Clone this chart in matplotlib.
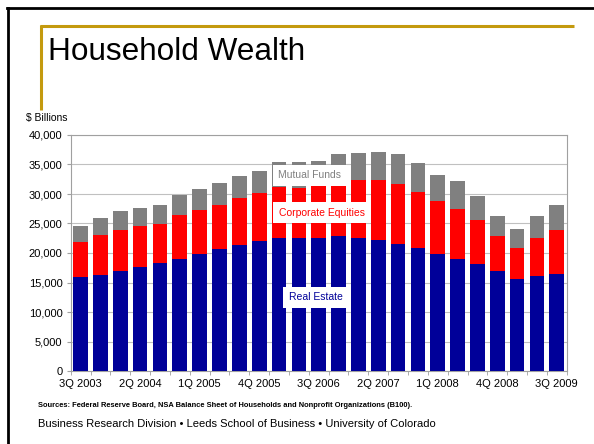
import numpy as np
import matplotlib
matplotlib.use("Agg")
import matplotlib.pyplot as plt
from matplotlib.lines import Line2D

# --- DATA ($ billions) ---
quarters = ['3Q 2003', '4Q 2003', '1Q 2004', '2Q 2004', '3Q 2004', '4Q 2004',
            '1Q 2005', '2Q 2005', '3Q 2005', '4Q 2005', '1Q 2006', '2Q 2006',
            '3Q 2006', '4Q 2006', '1Q 2007', '2Q 2007', '3Q 2007', '4Q 2007',
            '1Q 2008', '2Q 2008', '3Q 2008', '4Q 2008', '1Q 2009', '2Q 2009',
            '3Q 2009']
real_estate = [15900, 16300, 17000, 17700, 18300, 18900, 19900, 20700, 21400, 22100,
               22600, 22600, 22600, 22900, 22500, 22150, 21600, 20900, 19900, 19000,
               18100, 17000, 15650, 16150, 16500]
corp_equities = [6000, 6800, 6950, 6900, 6650, 7500, 7400, 7500, 8000, 8000,
                 8650, 8500, 8800, 8900, 9800, 10150, 10150, 9500, 8850, 8500,
                 7500, 5900, 5150, 6350, 7450]
mutual_funds = [2600, 2900, 3100, 3100, 3250, 3500, 3600, 3600, 3700, 3800,
                4100, 4300, 4200, 5000, 4600, 4900, 4950, 4850, 4550, 4650,
                4100, 3400, 3250, 3700, 4150]
tick_every = 3

BLUE = '#000099'
RED = '#ff0000'
GRAY = '#808080'
GOLD = '#c49a0e'
plt.rcParams['font.family'] = ['Liberation Sans', 'DejaVu Sans']

fig = plt.figure(figsize=(5.94, 4.44), dpi=100)
fig.patch.set_facecolor('white')

# --- slide decoration (border + gold rule) ---
fig.add_artist(Line2D([7 / 594, 1], [1 - 8.5 / 444] * 2, color='black', lw=2.0))
fig.add_artist(Line2D([8 / 594] * 2, [0, 1 - 8 / 444], color='black', lw=2.0))
fig.add_artist(Line2D([40 / 594, 574 / 594], [1 - 26.5 / 444] * 2, color=GOLD, lw=2.2,
                      solid_capstyle='butt'))
fig.add_artist(Line2D([41 / 594] * 2, [1 - 25 / 444, 1 - 110 / 444], color=GOLD, lw=2.2,
                      solid_capstyle='butt'))

fig.text(48 / 594, 1 - 60 / 444, 'Household Wealth', fontsize=22.7,
         va='baseline', ha='left', color='black')

# --- chart ---
ax = fig.add_axes([70.7 / 594, 1 - 371 / 444, 496 / 594, 236 / 444])
x = np.arange(len(quarters))
re = np.array(real_estate)
ce = np.array(corp_equities)
mf = np.array(mutual_funds)
w = 0.74
ax.bar(x, re, width=w, color=BLUE, zorder=3)
ax.bar(x, ce, width=w, bottom=re, color=RED, zorder=3)
ax.bar(x, mf, width=w, bottom=re + ce, color=GRAY, zorder=3)

ax.set_xlim(-0.5, len(quarters) - 0.5)
ax.set_ylim(0, 40000)
ax.set_yticks(np.arange(0, 40001, 5000))
ax.set_yticklabels([f'{v:,}' for v in range(0, 40001, 5000)], fontsize=8)
ax.yaxis.grid(True, color='#c0c0c0', lw=0.8, zorder=0)

# tick marks between every bar, labels every third quarter
ax.set_xticks(np.arange(-0.5, len(quarters), 1), minor=True)
ax.set_xticks(x[::tick_every])
ax.set_xticklabels(quarters[::tick_every], fontsize=8)
ax.tick_params(axis='x', which='major', length=0, pad=6)
ax.tick_params(axis='x', which='minor', length=3, color='#a0a0a0')
ax.tick_params(axis='y', length=3, color='#a0a0a0', pad=3)
for s in ax.spines.values():
    s.set_color('#a0a0a0')
    s.set_linewidth(0.8)

# in-chart series labels
box = dict(facecolor='white', edgecolor='none', pad=4)
ax.text(9.95, 33200, 'Mutual Funds', color=GRAY, fontsize=7.5,
        ha='left', va='center', bbox=box, zorder=5)
ax.text(10.0, 26800, 'Corporate Equities', color=RED, fontsize=7.5,
        ha='left', va='center', bbox=box, zorder=5)
ax.text(10.5, 12500, 'Real Estate', color=BLUE, fontsize=7.5,
        ha='left', va='center', bbox=box, zorder=5)

fig.text(26 / 594, 1 - 118 / 444, '$ Billions', fontsize=7.5,
         ha='left', va='center')

fig.text(38 / 594, 1 - 405 / 444,
         'Sources: Federal Reserve Board, NSA Balance Sheet of Households and '
         'Nonprofit Organizations (B100).',
         fontsize=5.4, fontweight='bold', ha='left', va='center')
fig.text(38 / 594, 1 - 424 / 444,
         'Business Research Division \u2022 Leeds School of Business \u2022 '
         'University of Colorado',
         fontsize=8, ha='left', va='center')

fig.savefig('out.png', dpi=100)
